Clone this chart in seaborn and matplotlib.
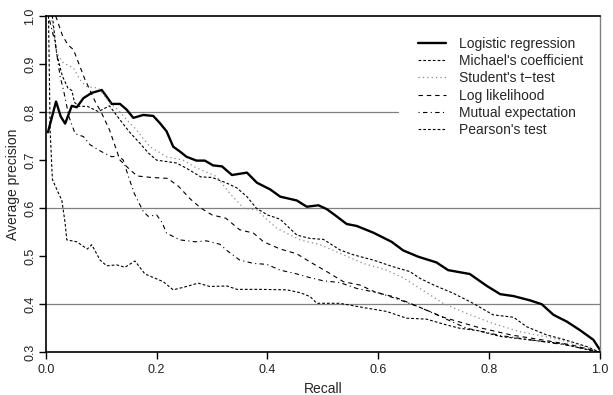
import numpy as np
import pandas as pd
import seaborn as sns
import matplotlib.pyplot as plt

# recall / average precision
logit_r = [0.004, 0.0186, 0.027, 0.035, 0.047, 0.056, 0.068, 0.083, 0.101, 0.110, 0.119, 0.134,
           0.146, 0.158, 0.176, 0.194, 0.206, 0.218, 0.230, 0.242, 0.254, 0.272, 0.287, 0.302,
           0.318, 0.336, 0.363, 0.381, 0.405, 0.423, 0.453, 0.471, 0.492, 0.507, 0.519, 0.543,
           0.561, 0.591, 0.624, 0.645, 0.672, 0.705, 0.726, 0.765, 0.796, 0.820, 0.844, 0.874,
           0.895, 0.916, 0.940, 0.964, 0.988, 1.0]
logit_p = [0.758, 0.822, 0.791, 0.776, 0.813, 0.810, 0.829, 0.840, 0.846, 0.832, 0.817, 0.817,
           0.805, 0.788, 0.794, 0.792, 0.777, 0.760, 0.728, 0.718, 0.707, 0.699, 0.699, 0.689,
           0.687, 0.669, 0.674, 0.653, 0.639, 0.624, 0.616, 0.603, 0.606, 0.598, 0.588, 0.567,
           0.563, 0.549, 0.530, 0.512, 0.499, 0.487, 0.471, 0.463, 0.438, 0.421, 0.417, 0.408,
           0.400, 0.378, 0.364, 0.346, 0.326, 0.305]

michael_r = [0.012, 0.02, 0.03, 0.04, 0.047, 0.052, 0.06, 0.075, 0.095, 0.115, 0.13, 0.15, 0.17,
             0.185, 0.2, 0.236, 0.254, 0.28, 0.30, 0.327, 0.345, 0.363, 0.38, 0.40, 0.423, 0.453,
             0.477, 0.501, 0.531, 0.555, 0.591, 0.627, 0.657, 0.675, 0.70, 0.735, 0.771, 0.807,
             0.844, 0.868, 0.904, 0.934, 0.976, 1.0]
michael_p = [1.0, 0.92, 0.875, 0.85, 0.845, 0.82, 0.812, 0.812, 0.801, 0.813, 0.79, 0.76, 0.735,
             0.715, 0.70, 0.694, 0.683, 0.665, 0.664, 0.652, 0.642, 0.624, 0.600, 0.586, 0.577,
             0.544, 0.537, 0.535, 0.513, 0.503, 0.492, 0.478, 0.468, 0.454, 0.440, 0.423, 0.402,
             0.378, 0.373, 0.353, 0.336, 0.327, 0.312, 0.30]

student_r = [0.01, 0.015, 0.02, 0.032, 0.05, 0.062, 0.074, 0.095, 0.115, 0.13, 0.146, 0.162,
             0.188, 0.218, 0.248, 0.27, 0.308, 0.332, 0.357, 0.381, 0.417, 0.459, 0.495, 0.531,
             0.573, 0.615, 0.645, 0.675, 0.717, 0.759, 0.807, 0.855, 0.904, 0.952, 1.0]
student_p = [1.0, 0.96, 0.923, 0.902, 0.892, 0.867, 0.853, 0.85, 0.82, 0.805, 0.784, 0.765,
             0.728, 0.707, 0.70, 0.685, 0.666, 0.631, 0.600, 0.596, 0.558, 0.534, 0.524, 0.506,
             0.485, 0.471, 0.455, 0.433, 0.402, 0.381, 0.360, 0.343, 0.332, 0.319, 0.30]

loglik_r = [0.018, 0.03, 0.04, 0.05, 0.06, 0.07, 0.09, 0.10, 0.115, 0.134, 0.152, 0.165, 0.19,
            0.22, 0.24, 0.26, 0.28, 0.30, 0.325, 0.35, 0.375, 0.393, 0.423, 0.453, 0.477, 0.507,
            0.537, 0.567, 0.597, 0.627, 0.651, 0.672, 0.72, 0.78, 0.84, 0.90, 0.95, 1.0]
loglik_p = [1.0, 0.96, 0.94, 0.93, 0.90, 0.87, 0.82, 0.80, 0.763, 0.70, 0.68, 0.667, 0.664,
            0.662, 0.645, 0.62, 0.60, 0.586, 0.579, 0.555, 0.548, 0.530, 0.515, 0.505, 0.488,
            0.468, 0.447, 0.440, 0.424, 0.416, 0.405, 0.395, 0.372, 0.352, 0.336, 0.325, 0.315,
            0.30]

mutual_r = [0.005, 0.017, 0.026, 0.032, 0.042, 0.053, 0.068, 0.08, 0.10, 0.119, 0.131, 0.14,
            0.148, 0.16, 0.176, 0.185, 0.20, 0.21, 0.218, 0.242, 0.27, 0.29, 0.314, 0.329, 0.35,
            0.375, 0.399, 0.423, 0.45, 0.475, 0.50, 0.531, 0.561, 0.603, 0.639, 0.672, 0.70,
            0.74, 0.76, 0.82, 0.88, 0.94, 1.0]
mutual_p = [1.0, 0.944, 0.874, 0.846, 0.79, 0.755, 0.749, 0.732, 0.718, 0.707, 0.709, 0.70,
            0.67, 0.63, 0.593, 0.583, 0.586, 0.57, 0.548, 0.534, 0.530, 0.532, 0.525, 0.510,
            0.492, 0.485, 0.483, 0.471, 0.464, 0.456, 0.449, 0.445, 0.433, 0.423, 0.409, 0.395,
            0.381, 0.36, 0.35, 0.335, 0.325, 0.315, 0.30]

pearson_r = [0.005, 0.008, 0.012, 0.023, 0.029, 0.035, 0.038, 0.056, 0.075, 0.083, 0.098, 0.110,
             0.128, 0.143, 0.161, 0.179, 0.212, 0.230, 0.254, 0.275, 0.296, 0.327, 0.345, 0.387,
             0.435, 0.459, 0.477, 0.489, 0.530, 0.579, 0.615, 0.651, 0.687, 0.723, 0.747, 0.78,
             0.82, 0.88, 0.93, 0.96, 1.0]
pearson_p = [1.0, 0.76, 0.66, 0.631, 0.617, 0.569, 0.534, 0.530, 0.515, 0.524, 0.492, 0.480,
             0.482, 0.477, 0.490, 0.463, 0.447, 0.430, 0.437, 0.444, 0.437, 0.438, 0.431, 0.431,
             0.430, 0.424, 0.416, 0.402, 0.402, 0.392, 0.385, 0.371, 0.369, 0.357, 0.350, 0.345,
             0.333, 0.325, 0.318, 0.31, 0.30]

methods = ["Logistic regression", "Michael's coefficient", "Student's t\u2212test",
           "Log likelihood", "Mutual expectation", "Pearson's test"]
series = [(logit_r, logit_p), (michael_r, michael_p), (student_r, student_p),
          (loglik_r, loglik_p), (mutual_r, mutual_p), (pearson_r, pearson_p)]

# line look per method
styles = {
    "Logistic regression": dict(color="black", lw=1.7, linestyle="-"),
    "Michael's coefficient": dict(color="black", lw=0.8, linestyle=(0, (2.5, 1.8))),
    "Student's t\u2212test": dict(color="#8a8a8a", lw=0.9, linestyle=(0, (1, 2.5))),
    "Log likelihood": dict(color="black", lw=0.8, linestyle=(0, (4, 3.5))),
    "Mutual expectation": dict(color="black", lw=0.8, linestyle=(0, (1, 3, 4, 3))),
    "Pearson's test": dict(color="black", lw=0.8, linestyle=(0, (2.5, 1.8))),
}

sns.set_style("ticks")
plt.rcParams['font.family'] = ['Liberation Sans', 'DejaVu Sans']

fig = plt.figure(figsize=(6.13, 3.95), dpi=100)
ax = fig.add_axes([0.0746, 0.1081, 0.9042, 0.8514])

# reference lines
for yv in [0.4, 0.6]:
    ax.axhline(yv, color="#808080", lw=0.9, zorder=0)
ax.axhline(0.8, xmax=0.635, color="#808080", lw=0.9, zorder=0)

for name, (r, p) in zip(methods, series):
    sns.lineplot(x=r, y=p, ax=ax, label=name, sort=False, estimator=None, **styles[name])

ax.set_xlim(0, 1)
ax.set_ylim(0.3, 1.0)
ax.set_xticks(np.arange(0, 1.01, 0.2))
ax.set_xticklabels(["0.0", "0.2", "0.4", "0.6", "0.8", "1.0"])
ax.set_yticks(np.arange(0.3, 1.01, 0.1))
ax.set_yticklabels(["0.3", "0.4", "0.5", "0.6", "0.7", "0.8", "0.9", "1.0"],
                   rotation=90, va="center")
ax.tick_params(labelsize=9, length=5, width=1, colors="black", labelcolor="#222222")
ax.tick_params(axis="y", pad=2)
ax.set_xlabel("Recall", fontsize=10, labelpad=4)
ax.set_ylabel("Average precision", fontsize=10, labelpad=3)

for s in ["left", "bottom", "top"]:
    ax.spines[s].set_color("black")
    ax.spines[s].set_linewidth(1.2)
ax.spines["right"].set_color("#808080")
ax.spines["right"].set_linewidth(1.0)

ax.legend(loc="upper left", bbox_to_anchor=(0.652, 0.972), frameon=False, fontsize=10,
          handlelength=2.0, handletextpad=0.95, labelspacing=0.24, borderpad=0.3)

plt.savefig("out.png", dpi=100)
